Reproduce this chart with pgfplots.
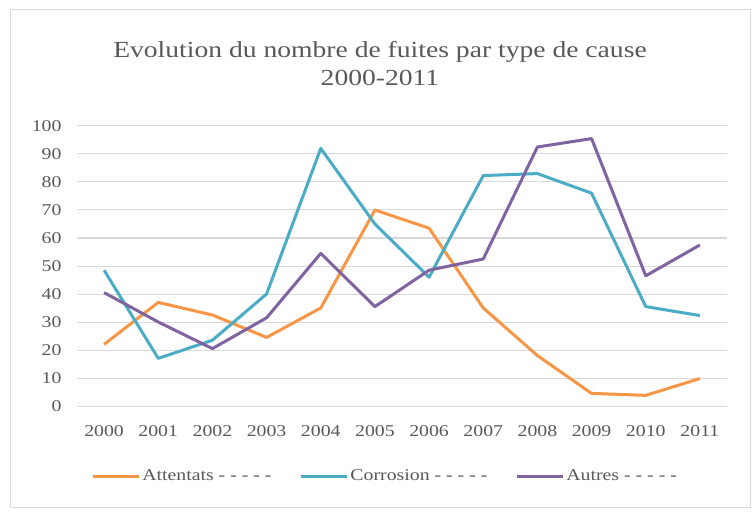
\documentclass[border=0pt]{standalone}
\usepackage{pgfplots}
\pgfplotsset{compat=1.18}
\usepackage{fontspec}
\setmainfont{Liberation Serif}[FakeStretch=1.2]
\definecolor{cOr}{HTML}{F79646}
\definecolor{cTe}{HTML}{4BACC6}
\definecolor{cPu}{HTML}{8064A2}
\definecolor{cTx}{HTML}{595959}
\definecolor{cGr}{HTML}{D9D9D9}
\begin{document}
\begin{tikzpicture}[x=1pt,y=1pt]
\fill[white] (0,0) rectangle (756,512);
\draw[cGr, line width=1pt] (10,4) rectangle (750,502);
\node[text=cTx, font=\fontsize{23}{28}\selectfont, align=center] at (380,448) {Evolution du nombre de fuites par type de cause\\2000-2011};
\begin{axis}[
  at={(77pt,106pt)}, anchor=south west,
  scale only axis, width=650pt, height=280pt,
  xmin=-0.5, xmax=11.5, ymin=0, ymax=100,
  xtick={0,...,11},
  xticklabels={2000,2001,2002,2003,2004,2005,2006,2007,2008,2009,2010,2011},
  ytick={0,10,...,100},
  ymajorgrids, grid style={cGr, line width=1pt},
  axis line style={draw=none},
  major tick length=0pt,
  tick label style={text=cTx, font=\fontsize{16.5}{18}\selectfont},
  /pgf/number format/assume math mode=true,
  yticklabel style={xshift=-12pt},
  xticklabel style={yshift=-16pt},
  legend style={at={(0.474,-0.25)}, anchor=center, draw=none, fill=none, legend columns=3,
    font=\fontsize{16.5}{18}\selectfont, text=cTx,
    /tikz/every even column/.append style={column sep=26pt}},
  legend cell align=left,
  legend image code/.code={\draw[#1, line width=3pt] (-4pt,0pt) -- (42pt,0pt);},
  every axis plot/.append style={line width=3pt, line join=round, no marks},
  clip=false,
]
\addplot[cOr] coordinates {(0,22) (1,37) (2,32.5) (3,24.5) (4,35) (5,70) (6,63.5) (7,35) (8,18) (9,4.5) (10,3.8) (11,9.8)};
\addlegendentry{Attentats - - - - -}
\addplot[cTe] coordinates {(0,48.5) (1,17) (2,23.5) (3,40) (4,92) (5,65) (6,46) (7,82.3) (8,83) (9,76) (10,35.5) (11,32.3)};
\addlegendentry{Corrosion - - - - -}
\addplot[cPu] coordinates {(0,40.5) (1,30) (2,20.5) (3,31.5) (4,54.5) (5,35.5) (6,48.5) (7,52.5) (8,92.5) (9,95.5) (10,46.5) (11,57.5)};
\addlegendentry{Autres - - - - -}
\end{axis}
\end{tikzpicture}
\end{document}
